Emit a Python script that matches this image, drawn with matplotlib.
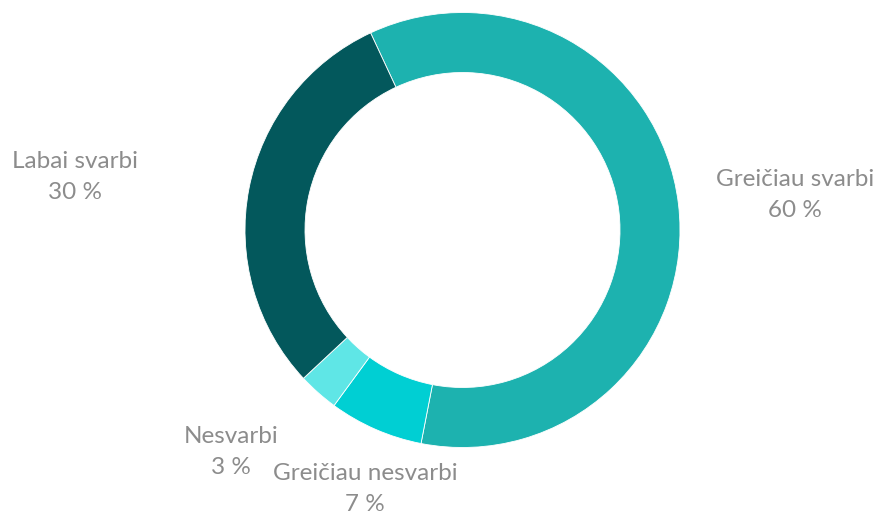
import matplotlib.pyplot as plt

labels = ['Greičiau svarbi', 'Greičiau nesvarbi', 'Nesvarbi', 'Labai svarbi']
values = [60, 7, 3, 30]
colors = ['#1DB2AF', '#00CFD3', '#5FE6E6', '#03585C']

# label positions in pixels (x, y from top)
label_pos = [(795, 195), (365, 489), (231, 452), (75, 177)]

fig = plt.figure(figsize=(8.79, 5.14), dpi=100)
ax = fig.add_axes([0, 0, 1, 1])

ax.pie(values, colors=colors, startangle=115, counterclock=False,
       center=(462.5, 514 - 230), radius=217.5,
       wedgeprops=dict(width=60, edgecolor='white', linewidth=0.6))

# pie resets the limits, so set them afterwards
ax.set_xlim(0, 879)
ax.set_ylim(0, 514)
ax.set_aspect('equal')
ax.axis('off')

for lab, v, (x, y) in zip(labels, values, label_pos):
    ax.text(x, 514 - y, f'{lab}\n{v} %', ha='center', va='center',
            fontsize=17.5, color='#8C8C8C', family='Lato', linespacing=1.6)

fig.savefig('out.png', dpi=100)
